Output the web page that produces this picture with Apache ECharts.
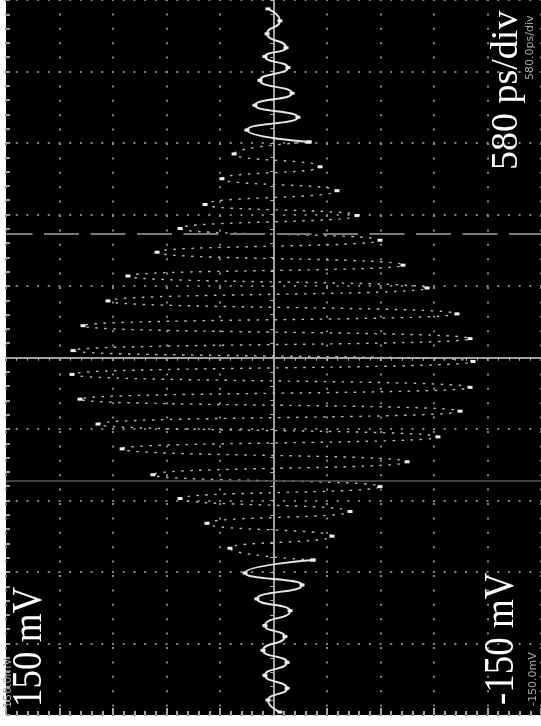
<!DOCTYPE html>
<html>
<head>
<meta charset="utf-8">
<script src="https://cdn.jsdelivr.net/npm/echarts@6/dist/echarts.min.js"></script>
<style>
  html, body { margin: 0; padding: 0; background: #ffffff; }
  #chart { width: 541px; height: 726px; }
</style>
</head>
<body>
<div id="chart"></div>
<script>
// Burst turning points: time (ps) and amplitude (mV), in time order
const peakTimes = [-2876, -2779, -2683, -2578, -2473, -2376, -2264, -2175, -2054, -1958,
  -1845, -1748, -1643, -1547, -1450, -1345, -1249, -1144, -1047, -951,
  -846, -741, -644, -540, -435, -338, -242, -137, -32, 56,
  153, 258, 354, 459, 564, 661, 749, 854, 951, 1047,
  1152, 1241, 1353, 1450, 1547, 1651, 1748, 1845, 1949, 2046,
  2143, 2248, 2352, 2441, 2513, 2626, 2731, 2828];
const peakVolts = [-3.6, 3.1, -7.6, 4.8, -7.6, 5.9, -6.4, 4.8, -9.3, 9.3,
  -16.0, 16.0, -22.1, 24.4, -32.8, 37.3, -42.9, 52.4, -59.7, 67.6,
  -74.9, 84.9, -92.2, 98.4, -104.6, 108.5, -110.2, 113.0, -111.9, 112.4,
  -110.2, 106.8, -102.9, 92.8, -86.1, 81.6, -72.6, 65.3, -59.7, 52.4,
  -46.8, 38.4, -35.6, 28.9, -26.1, 22.1, -19.9, 14.9, -13.7, 10.4,
  -10.4, 7.6, -8.1, 4.8, -7.0, 3.6, -3.6, 3.1];

// Screen scales
const voltTop = 150, voltBottom = -150, voltPerDiv = 30;
const timePerDiv = 580, timeHalfSpan = 2900;
// Cursor positions (ps)
const dashedCursorTime = 1000;
const solidCursorTime = -1000;
// Screen annotations
const bigLabels = ['150 mV', '-150 mV', '580 ps/div'];
const smallLabels = ['150.0mV', '-150.0mV', '580.0ps/div'];

const points = peakVolts.map((v, i) => [v, peakTimes[i]]);
// Slow outer parts of the burst are drawn as a solid trace, the fast middle as a sparse one
const midStart = 12, midEnd = 46;
const leadPart = points.slice(0, midStart + 1);
const midPart = points.slice(midStart, midEnd + 1);
const tailPart = points.slice(midEnd);

const chart = echarts.init(document.getElementById('chart'), null, { renderer: 'canvas' });

function voltAxis(extra) {
  return Object.assign({
    type: 'value', min: voltBottom, max: voltTop, interval: voltPerDiv, inverse: true,
    axisLabel: { show: false }, splitLine: { show: false }
  }, extra);
}
function timeAxis(extra) {
  return Object.assign({
    type: 'value', min: -timeHalfSpan, max: timeHalfSpan, interval: timePerDiv,
    axisLabel: { show: false }, splitLine: { show: false }
  }, extra);
}

const tickStyle = { color: '#b0b0b0', width: 1 };

const traceSymbol = {
  symbol: 'rect', symbolSize: [5, 3], showSymbol: true,
  itemStyle: { color: '#f0f0f0' }
};

chart.setOption({
  animation: false,
  backgroundColor: '#ffffff',
  grid: {
    left: 6, right: 0, top: -5, bottom: 11,
    show: true, backgroundColor: '#000000', borderWidth: 0
  },
  xAxis: [
    voltAxis({
      axisLine: { show: true, onZero: true, onZeroAxisIndex: 0, lineStyle: { color: '#a0a0a0', width: 2 } },
      axisTick: { show: true, inside: false, length: 3, lineStyle: tickStyle },
      minorTick: { show: true, splitNumber: 5, length: 3, lineStyle: tickStyle },
      splitLine: { show: true, lineStyle: { color: '#858585', width: 2, type: [2, 12.4], dashOffset: 1 } }
    }),
    voltAxis({
      axisLine: { show: false, onZero: true, onZeroAxisIndex: 0 },
      axisTick: { show: true, inside: true, length: 3, lineStyle: tickStyle },
      minorTick: { show: true, splitNumber: 5, length: 3, lineStyle: tickStyle }
    }),
    voltAxis({
      position: 'bottom',
      axisLine: { show: false, onZero: false },
      axisTick: { show: true, inside: true, length: 7, lineStyle: { color: '#a8a8a8', width: 2 } },
      minorTick: { show: true, splitNumber: 5, length: 4, lineStyle: { color: '#a8a8a8', width: 2 } }
    })
  ],
  yAxis: [
    timeAxis({
      axisLine: { show: true, onZero: true, onZeroAxisIndex: 0, lineStyle: { color: '#a0a0a0', width: 2 } },
      axisTick: { show: true, inside: false, length: 3, lineStyle: tickStyle },
      minorTick: { show: true, splitNumber: 5, length: 3, lineStyle: tickStyle },
      splitLine: { show: true, lineStyle: { color: '#858585', width: 2, type: [2, 8.7], dashOffset: 1 } }
    }),
    timeAxis({
      axisLine: { show: false, onZero: true, onZeroAxisIndex: 0 },
      axisTick: { show: true, inside: true, length: 3, lineStyle: tickStyle },
      minorTick: { show: true, splitNumber: 5, length: 3, lineStyle: tickStyle }
    }),
    timeAxis({
      position: 'left',
      axisLine: { show: false, onZero: false },
      axisTick: { show: true, inside: true, length: 4, lineStyle: { color: '#9a9a9a', width: 2 } },
      minorTick: { show: true, splitNumber: 5, length: 4, lineStyle: { color: '#9a9a9a', width: 2 } }
    })
  ],
  series: [
    Object.assign({
      type: 'line', name: 'lead', data: leadPart,
      smooth: 0.6, smoothMonotone: 'y',
      lineStyle: { color: '#e6e6e6', width: 1.9 },
      markLine: {
        silent: true, symbol: 'none', label: { show: false },
        data: [
          { yAxis: dashedCursorTime, lineStyle: { color: '#7a7a7a', width: 2, type: [35, 11.5], dashOffset: 3 } },
          { yAxis: solidCursorTime, lineStyle: { color: '#5a5a5a', width: 1.5, type: 'solid' } }
        ]
      }
    }, traceSymbol),
    Object.assign({
      type: 'line', name: 'middle', data: midPart,
      smooth: 0.6, smoothMonotone: 'y',
      lineStyle: { color: '#bcbcbc', width: 1.4, type: [2.5, 6.5] }
    }, traceSymbol),
    Object.assign({
      type: 'line', name: 'tail', data: tailPart,
      smooth: 0.6, smoothMonotone: 'y',
      lineStyle: { color: '#e6e6e6', width: 1.9 }
    }, traceSymbol)
  ],
  graphic: [
    { type: 'text', x: 30, y: 707, rotation: Math.PI / 2, scaleX: 0.88, z: 100,
      style: { text: bigLabels[0], fill: '#ffffff', font: '42px "Liberation Serif"',
        align: 'left', textAlign: 'left', verticalAlign: 'middle', textVerticalAlign: 'middle' } },
    { type: 'text', x: 502, y: 705, rotation: Math.PI / 2, scaleX: 0.88, z: 100,
      style: { text: bigLabels[1], fill: '#ffffff', font: '42px "Liberation Serif"',
        align: 'left', textAlign: 'left', verticalAlign: 'middle', textVerticalAlign: 'middle' } },
    { type: 'text', x: 507, y: 170, rotation: Math.PI / 2, z: 100,
      style: { text: bigLabels[2], fill: '#ffffff', font: '38px "Liberation Serif"',
        align: 'left', textAlign: 'left', verticalAlign: 'middle', textVerticalAlign: 'middle' } },
    { type: 'text', x: 8, y: 708, rotation: Math.PI / 2, z: 100,
      style: { text: smallLabels[0], fill: '#a8a8a8', font: '11px "DejaVu Sans"',
        align: 'left', textAlign: 'left', verticalAlign: 'middle', textVerticalAlign: 'middle' } },
    { type: 'text', x: 533, y: 706, rotation: Math.PI / 2, z: 100,
      style: { text: smallLabels[1], fill: '#a8a8a8', font: '11px "DejaVu Sans"',
        align: 'left', textAlign: 'left', verticalAlign: 'middle', textVerticalAlign: 'middle' } },
    { type: 'text', x: 530, y: 80, rotation: Math.PI / 2, z: 100,
      style: { text: smallLabels[2], fill: '#a8a8a8', font: '11px "DejaVu Sans"',
        align: 'left', textAlign: 'left', verticalAlign: 'middle', textVerticalAlign: 'middle' } }
  ]
});
</script>
</body>
</html>
